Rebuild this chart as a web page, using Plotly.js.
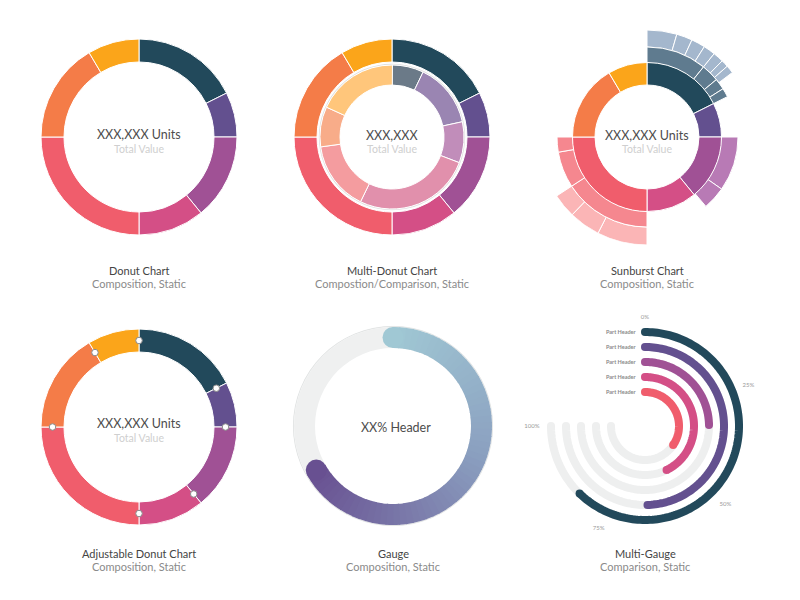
<!DOCTYPE html>
<html><head><meta charset="utf-8">
<script src="https://cdn.plot.ly/plotly-3.0.1.min.js"></script>
<style>html,body{margin:0;padding:0;background:#fff}#chart{width:800px;height:600px}</style>
</head><body><div id="chart"></div>
<script>
// ---------- data ----------
const segNames   = ['S1','S2','S3','S4','S5','S6','S7'];
const segColors  = ['#22495B','#63508F','#A05195','#D44F86','#F05D6C','#F47C48','#FBA51A'];
const donutValues = [17.6, 7.4, 14.1, 10.9, 25.0, 16.5, 8.5];
const innerValues = [7.1, 14.5, 9.2, 26.4, 15.6, 9.0, 18.3];
const innerColors = ['#6B7A88','#9A85B2','#C18DBA','#E190AC','#F49C9F','#F8AC89','#FFC67B'];

// sunburst children (percent of total), start at parent's start
const sunNavyL2   = [10.8, 3.2, 2.0, 1.6];
const sunNavyL3   = [4.5, 2.4, 2.1, 1.8, 1.6, 1.1, 1.2];
const sunVioletL2 = [9.7, 4.1];
const sunCoralL2  = [15.8, 6.5, 2.7];
const sunCoralL3  = [7.5, 4.7, 3.6];

const gaugeValue = 66.7;           // percent of full circle
const mgLabels = ['Part Header','Part Header','Part Header','Part Header','Part Header'];
const mgValues = [83, 66, 33, 57, 46];
const mgColors = ['#22495B','#63508F','#A05195','#D44F86','#F05D6C'];
const mgTickVals = [0, 25, 50, 75, 100];
const mgTickText = ['0%','25%','50%','75%','100%'];

const panelTitles = ['Donut Chart','Multi-Donut Chart','Sunburst Chart','Adjustable Donut Chart','Gauge','Multi-Gauge'];
const panelSubs = ['Composition, Static','Compostion/Comparison, Static','Composition, Static','Composition, Static','Composition, Static','Comparison, Static'];

// ---------- helpers ----------
const W = 800, H = 600;
const FONT = 'Lato, "Open Sans", sans-serif';
function cumStart(values, upto) { let s = 0; for (let i = 0; i < upto; i++) s += values[i]; return s; }
function ring(values, colors, base, thick, subplot, startPct, lineW) {
  let acc = startPct || 0; const theta = [], width = [];
  values.forEach(v => { theta.push((acc + v / 2) * 3.6); width.push(v * 3.6); acc += v; });
  return { type: 'barpolar', subplot, theta, width,
    r: values.map(() => thick), base: values.map(() => base),
    marker: { color: colors, line: { color: '#ffffff', width: lineW === undefined ? 1 : lineW } },
    hoverinfo: 'skip', showlegend: false };
}
function polar(cx, cy, R, angular) {
  return {
    domain: { x: [(cx - R) / W, (cx + R) / W], y: [1 - (cy + R) / H, 1 - (cy - R) / H] },
    bgcolor: 'rgba(0,0,0,0)', barmode: 'overlay',
    radialaxis: { visible: false, range: [0, R] },
    angularaxis: Object.assign({ visible: false, direction: 'clockwise', rotation: 90, thetaunit: 'degrees' }, angular || {})
  };
}
function ann(x, y, text, size, color, extra) {
  return Object.assign({ xref: 'paper', yref: 'paper', x: x / W, y: 1 - y / H, text, showarrow: false,
    font: { family: FONT, size, color }, xanchor: 'center', yanchor: 'middle' }, extra || {});
}
function lerpColor(stops, t) {
  for (let i = 0; i < stops.length - 1; i++) {
    const a = stops[i], b = stops[i + 1];
    if (t <= b[0]) { const f = (t - a[0]) / (b[0] - a[0]);
      const c = [1, 2, 3].map(k => Math.round(a[k] + (b[k] - a[k]) * f));
      return 'rgb(' + c.join(',') + ')'; }
  }
  const l = stops[stops.length - 1]; return 'rgb(' + l[1] + ',' + l[2] + ',' + l[3] + ')';
}
function arcTheta(fromDeg, toDeg) { const t = []; for (let a = fromDeg; a < toDeg; a += 1.5) t.push(a); t.push(toDeg); return t; }

const traces = [];
// 1. Donut
traces.push(ring(donutValues, segColors, 75, 23, 'polar'));
// 2. Multi-donut
traces.push(ring(donutValues, segColors, 75, 23, 'polar2'));
traces.push({ type: 'barpolar', subplot: 'polar2', theta: [180], width: [360], r: [1.2], base: [72],
  marker: { color: '#e0e0e0', line: { width: 0 } }, hoverinfo: 'skip', showlegend: false });
traces.push(ring(innerValues, innerColors, 52, 20, 'polar2'));
// 3. Sunburst
traces.push(ring(sunNavyL3, sunNavyL3.map(() => '#A4B7CD'), 90, 17, 'polar3', cumStart(donutValues, 0)));
traces.push(ring(sunCoralL3, sunCoralL3.map(() => '#FBB5B6'), 90, 18, 'polar3', cumStart(donutValues, 4)));
traces.push(ring(sunNavyL2, sunNavyL2.map(() => '#5F7B8F'), 74, 16, 'polar3', cumStart(donutValues, 0)));
traces.push(ring(sunVioletL2, sunVioletL2.map(() => '#B87AB5'), 74, 17, 'polar3', cumStart(donutValues, 2)));
traces.push(ring(sunCoralL2, sunCoralL2.map(() => '#F5878F'), 74, 16, 'polar3', cumStart(donutValues, 4)));
traces.push(ring(donutValues, segColors, 52, 22.5, 'polar3'));
// 4. Adjustable donut
traces.push(ring(donutValues, segColors, 75, 23, 'polar4'));
traces.push({ type: 'scatterpolar', subplot: 'polar4', mode: 'markers',
  r: donutValues.map(() => 86.5), theta: donutValues.map((v, i) => cumStart(donutValues, i) * 3.6),
  marker: { size: 6.5, color: '#ffffff', line: { color: '#8a8a8a', width: 1 } }, hoverinfo: 'skip', showlegend: false });
// 5. Gauge
traces.push({ type: 'barpolar', subplot: 'polar5', theta: [180], width: [360], r: [1.2], base: [99],
  marker: { color: '#e4e6e6', line: { width: 0 } }, hoverinfo: 'skip', showlegend: false });
traces.push({ type: 'barpolar', subplot: 'polar5', theta: [180], width: [360], r: [21], base: [78],
  marker: { color: '#EFF0F0', line: { width: 0 } }, hoverinfo: 'skip', showlegend: false });
(function () {
  const stops = [[0, 160, 200, 212], [0.45, 139, 160, 192], [1, 104, 80, 145]];
  const end = gaugeValue * 3.6, N = 60, step = end / N;
  const theta = [], width = [], col = [];
  for (let i = 0; i < N; i++) { theta.push((i + 0.5) * step); width.push(step * 1.15); col.push(lerpColor(stops, (i + 0.5) / N)); }
  traces.push({ type: 'barpolar', subplot: 'polar5', theta, width, r: theta.map(() => 21), base: theta.map(() => 78),
    marker: { color: col, line: { width: 0 } }, hoverinfo: 'skip', showlegend: false });
  traces.push({ type: 'scatterpolar', subplot: 'polar5', mode: 'markers', r: [88.5, 88.5], theta: [0, end],
    marker: { size: 21, color: [lerpColor(stops, 0), lerpColor(stops, 1)], line: { width: 0 } }, hoverinfo: 'skip', showlegend: false });
})();
// 6. Multi-gauge
const mgRadii = [94, 79, 64, 49, 34];
function gaugeArc(radius, toDeg, color, name) {
  const th = arcTheta(0, toDeg);
  return { type: 'scatterpolar', subplot: 'polar6', mode: 'lines+markers', r: th.map(() => radius), theta: th,
    line: { color, width: 8 },
    marker: { size: th.map((t, k) => (k === 0 || k === th.length - 1) ? 8 : 0), color, line: { width: 0 }, opacity: 1 },
    name, hoverinfo: 'skip', showlegend: false };
}
mgValues.forEach((v, i) => traces.push(gaugeArc(mgRadii[i], 270, '#EEEFEF', 'track')));
mgValues.forEach((v, i) => traces.push(gaugeArc(mgRadii[i], v * 2.7, mgColors[i], mgLabels[i])));

// ---------- layout ----------
const annotations = [];
const centers = [[139, 137], [392, 137], [647, 137], [139, 427], [393, 426], [645, 426]];
const titleY = [[270, 283], [270, 283], [270, 283], [553, 566], [553, 566], [553, 566]];
panelTitles.forEach((t, i) => {
  annotations.push(ann(centers[i][0], titleY[i][0], t, 11, '#444444'));
  annotations.push(ann(centers[i][0], titleY[i][1], panelSubs[i], 11, '#8a8a8a'));
});
const MAIN = '#4d4d4d', SUB = '#cfcfcf';
annotations.push(ann(139, 134, 'XXX,XXX Units', 12.5, MAIN));
annotations.push(ann(139, 149, 'Total Value', 10.5, SUB));
annotations.push(ann(392, 135, 'XXX,XXX', 12.5, MAIN));
annotations.push(ann(392, 149, 'Total Value', 10.5, SUB));
annotations.push(ann(647, 135, 'XXX,XXX Units', 12.5, MAIN));
annotations.push(ann(647, 149, 'Total Value', 10.5, SUB));
annotations.push(ann(139, 423, 'XXX,XXX Units', 12.5, MAIN));
annotations.push(ann(139, 438, 'Total Value', 10.5, SUB));
annotations.push(ann(396, 427, 'XX% Header', 12.5, MAIN));
mgLabels.forEach((l, i) => {
  annotations.push(ann(638, 426 - mgRadii[i], '<b>' + l + '</b>', 5.5, '#8a8a8a', { xanchor: 'right' }));
});

const layout = {
  width: W, height: H, margin: { l: 0, r: 0, t: 0, b: 0 }, paper_bgcolor: '#ffffff',
  showlegend: false, font: { family: FONT },
  polar: polar(139, 137, 98.5),
  polar2: polar(392, 137, 98.5),
  polar3: polar(647, 137, 108),
  polar4: polar(139, 427, 98.5),
  polar5: polar(393, 426, 100.5),
  polar6: polar(645, 426, 105, { visible: true, showline: false, showgrid: false, ticks: '',
    tickmode: 'array', tickvals: mgTickVals.map(v => v * 2.7), ticktext: mgTickText,
    tickfont: { family: FONT, size: 6, color: '#999999' } }),
  annotations
};
Plotly.newPlot('chart', traces, layout, { staticPlot: true, displayModeBar: false });
</script></body></html>
